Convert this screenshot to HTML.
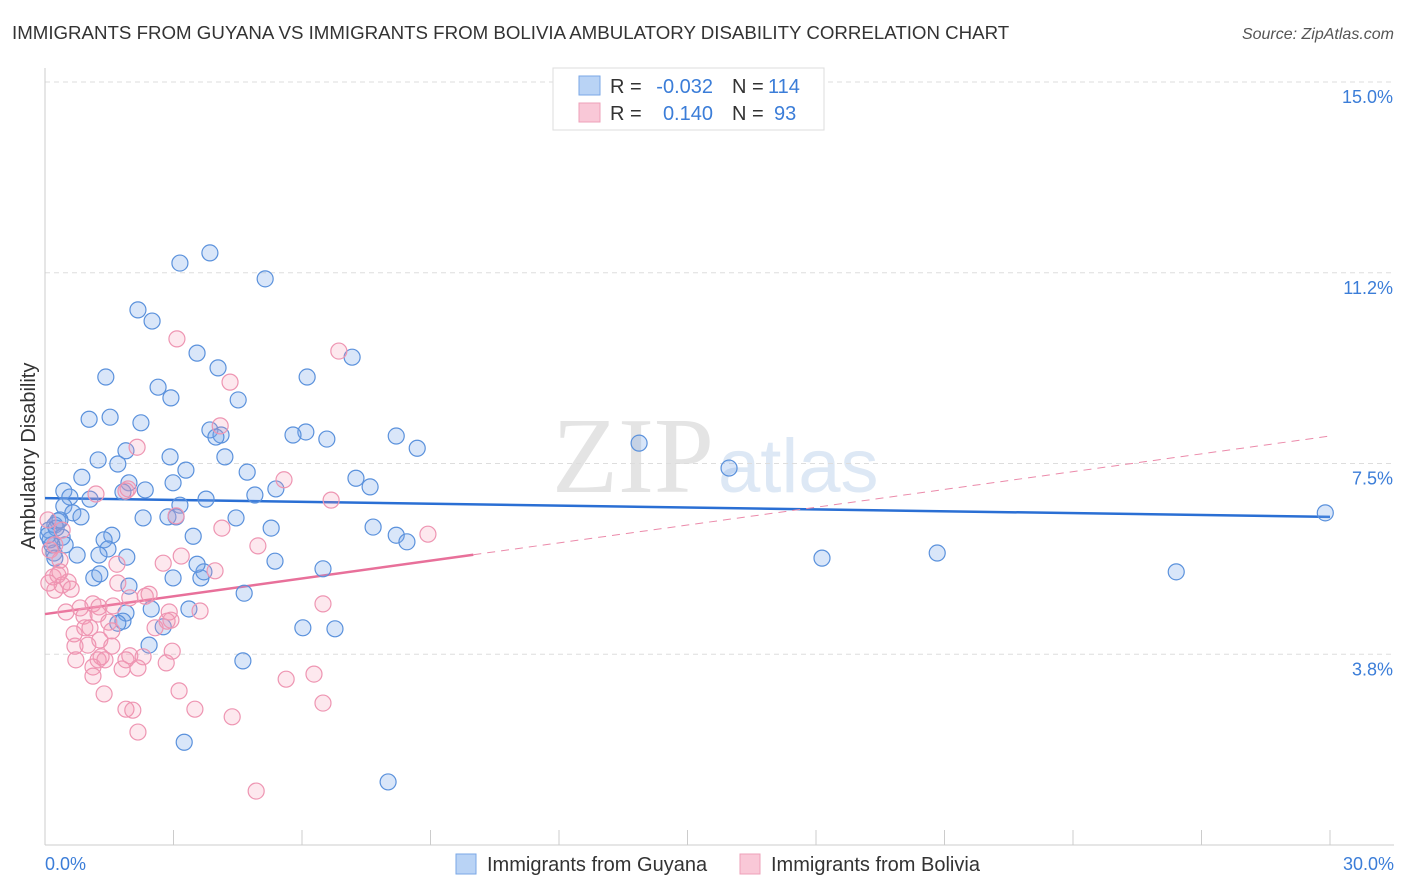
<!DOCTYPE html>
<html><head><meta charset="utf-8"><style>
body{margin:0;background:#fff;font-family:"Liberation Sans",sans-serif;}
svg{display:block}
</style></head><body>
<svg id="chart" width="1406" height="892" xmlns="http://www.w3.org/2000/svg">
<text x="12" y="39" font-size="18.7" fill="#333">IMMIGRANTS FROM GUYANA VS IMMIGRANTS FROM BOLIVIA AMBULATORY DISABILITY CORRELATION CHART</text>
<text x="1394" y="39" font-size="16" fill="#555" font-style="italic" text-anchor="end">Source: ZipAtlas.com</text>
<text x="714" y="492" font-size="108" fill="#e4e4e4" text-anchor="end" font-family="Liberation Serif">ZIP</text>
<text x="718" y="492" font-size="76" fill="#dde8f5">atlas</text>
<text transform="translate(35,456) rotate(-90)" font-size="20" fill="#333" text-anchor="middle">Ambulatory Disability</text>
<g id="grid"></g><g id="axes"></g><g id="trend"></g><g id="pts"></g>
<g>
<rect x="553" y="68" width="271" height="62" fill="#fff" stroke="#ddd"/>
<rect x="579" y="76" width="21" height="19" fill="#b9d3f5" stroke="#7aa7e6"/>
<rect x="579" y="103" width="21" height="19" fill="#f9c8d7" stroke="#eea0b8"/>
<text x="610" y="93" font-size="20" fill="#333">R =</text>
<text x="713" y="93" font-size="20" fill="#3b7dd8" text-anchor="end">-0.032</text>
<text x="732" y="93" font-size="20" fill="#333">N =</text>
<text x="768" y="93" font-size="20" fill="#3b7dd8">114</text>
<text x="610" y="120" font-size="20" fill="#333">R =</text>
<text x="713" y="120" font-size="20" fill="#3b7dd8" text-anchor="end">0.140</text>
<text x="732" y="120" font-size="20" fill="#333">N =</text>
<text x="774" y="120" font-size="20" fill="#3b7dd8">93</text>
</g>
<g>
<rect x="456" y="854" width="20" height="20" fill="#b9d3f5" stroke="#7aa7e6"/>
<text x="487" y="871" font-size="20" fill="#333">Immigrants from Guyana</text>
<rect x="740" y="854" width="20" height="20" fill="#f9c8d7" stroke="#eea0b8"/>
<text x="771" y="871" font-size="20" fill="#333">Immigrants from Bolivia</text>
</g>
</svg>
<script>
const yTicks=[15,11.25,7.5,3.75];
const yTickLabels=["15.0%","11.2%","7.5%","3.8%"];
const xTickLabels=["0.0%","30.0%"];
const guyanaX=[29.89,26.41,20.83,18.14,15.97,13.87,7.17,6.12,5.14,3.85,3.15,2.17,2.50,3.55,2.64,4.04,2.94,4.51,1.42,1.03,1.52,2.24,6.09,5.79,6.58,8.20,8.69,3.85,4.11,3.99,4.20,2.92,3.29,4.72,1.24,1.70,1.89,7.26,7.59,4.90,5.39,3.76,3.15,2.99,2.34,1.96,1.82,0.86,0.44,0.58,1.05,4.46,5.28,7.66,8.20,8.45,2.29,2.87,3.06,0.44,0.65,0.84,0.30,0.23,0.09,0.40,0.47,1.56,1.38,1.47,3.46,5.37,6.49,1.26,1.91,0.21,0.75,2.99,3.64,3.71,3.55,1.14,1.28,1.96,4.65,2.48,3.36,1.89,1.82,1.70,2.76,6.02,6.77,2.43,4.62,3.25,8.01,0.12,0.16,0.26,0.35,0.07,0.23];
const guyanaY=[6.53,5.37,5.74,5.64,7.41,7.90,9.59,9.20,11.13,11.64,11.44,10.52,10.30,9.67,9.00,9.38,8.79,8.75,9.20,8.37,8.41,8.30,8.12,8.06,7.98,8.04,7.80,8.16,8.06,8.02,7.63,7.63,7.37,7.33,7.57,7.49,7.75,7.21,7.04,6.88,7.00,6.80,6.68,7.12,6.98,7.12,6.94,7.23,6.96,6.84,6.80,6.43,6.23,6.25,6.09,5.96,6.43,6.45,6.45,6.66,6.53,6.45,6.37,6.29,6.19,6.05,5.90,6.09,6.00,5.82,6.07,5.58,5.43,5.70,5.66,5.74,5.70,5.25,5.25,5.37,5.52,5.25,5.33,5.09,4.95,4.64,4.64,4.56,4.40,4.36,4.29,4.27,4.25,3.93,3.62,2.02,1.24,6.00,5.90,6.23,6.39,6.09,5.64];
const boliviaX=[3.08,6.86,4.32,4.09,2.15,1.94,1.89,5.58,6.68,3.06,4.13,4.97,8.94,1.19,0.40,0.07,0.12,0.23,0.35,3.18,2.76,3.97,1.68,0.19,0.35,0.40,0.54,0.23,0.61,1.70,0.82,1.12,0.91,1.26,2.34,2.43,1.24,1.59,1.98,2.90,2.94,3.62,6.49,0.68,0.93,1.05,1.28,1.49,1.56,2.57,2.85,0.70,1.00,1.24,0.72,1.31,1.56,1.98,1.40,1.89,2.29,2.83,2.97,2.17,1.12,1.12,1.80,5.63,6.28,1.38,3.13,1.89,2.05,3.50,4.37,6.49,2.17,4.93,0.30,0.49,0.09];
const boliviaY=[9.95,9.71,9.10,8.24,7.82,7.00,6.96,7.18,6.78,6.47,6.23,5.88,6.11,6.90,6.19,6.39,5.80,5.90,5.60,5.68,5.54,5.39,5.52,5.27,5.37,5.11,5.17,5.01,5.03,5.15,4.66,4.74,4.50,4.68,4.89,4.93,4.54,4.70,4.86,4.58,4.42,4.60,4.74,4.15,4.27,4.27,4.03,4.38,4.21,4.27,4.40,3.91,3.93,3.64,3.64,3.70,3.91,3.72,3.64,3.64,3.70,3.58,3.81,3.48,3.50,3.32,3.46,3.26,3.36,2.97,3.03,2.67,2.65,2.67,2.52,2.79,2.22,1.06,5.31,4.58,5.15];
const guyanaTrend=[6.82,6.45];
const boliviaTrend=[4.54,8.04];
const boliviaSolidEnd=10;
const NS="http://www.w3.org/2000/svg";
const X0=45,X1=1330,Y0=845,Y15=82;
function sx(v){return X0+(X1-X0)*v/30;}
function sy(v){return Y0-(Y0-Y15)*v/15;}
function mk(tag,attrs,parent){const e=document.createElementNS(NS,tag);for(const k in attrs)e.setAttribute(k,attrs[k]);parent.appendChild(e);return e;}
const grid=document.getElementById('grid'),axes=document.getElementById('axes');
yTicks.forEach((t,i)=>{
 const l=mk('line',{x1:X0,x2:1394,y1:sy(t),y2:sy(t),stroke:'#ddd','stroke-dasharray':'5,4'},grid);
 
 
 const tx=mk('text',{x:1393,y:sy(t)+21,'font-size':18,fill:'#3b7dd8','text-anchor':'end'},grid);
 tx.textContent=yTickLabels[i];
 
 
});
const ya=mk('line',{x1:X0,x2:X0,y1:68,y2:Y0,stroke:'#ccc'},axes);


const xa=mk('line',{x1:X0,x2:1394,y1:Y0,y2:Y0,stroke:'#ccc'},axes);


for(let i=0;i<=10;i++){
 const t=mk('line',{x1:sx(i*3),x2:sx(i*3),y1:830,y2:Y0,stroke:'#ccc'},axes);
 
 
}
[[0,'start',45],[30,'end',1394]].forEach((d,i)=>{
 const tx=mk('text',{x:d[2],y:870,'font-size':18,fill:'#3b7dd8','text-anchor':d[1]},axes);
 tx.textContent=xTickLabels[i];
 
 
});
const pts=document.getElementById('pts');
function dots(xs,ys,fill,stroke,name){xs.forEach((x,i)=>{
 const c=mk('circle',{cx:sx(x),cy:sy(ys[i]),r:8,fill:fill,stroke:stroke,'stroke-width':1.2},pts);
 
 
});}
dots(guyanaX,guyanaY,'rgba(120,165,235,0.28)','#5a91dc','guyana-point');
dots(boliviaX,boliviaY,'rgba(245,150,178,0.22)','#ee95b2','bolivia-point');
const tr=document.getElementById('trend');
function ty(tt,x){return tt[0]+(tt[1]-tt[0])*x/30;}
const bl=mk('line',{x1:sx(0),y1:sy(ty(guyanaTrend,0)),x2:sx(30),y2:sy(ty(guyanaTrend,30)),stroke:'#2a6fd4','stroke-width':2.5},tr);


const pl=mk('line',{x1:sx(0),y1:sy(ty(boliviaTrend,0)),x2:sx(boliviaSolidEnd),y2:sy(ty(boliviaTrend,boliviaSolidEnd)),stroke:'#e8709a','stroke-width':2.5},tr);


const pd=mk('line',{x1:sx(boliviaSolidEnd),y1:sy(ty(boliviaTrend,boliviaSolidEnd)),x2:sx(30),y2:sy(ty(boliviaTrend,30)),stroke:'#eb8aaa','stroke-width':1,'stroke-dasharray':'8,6'},tr);


</script>
</body></html>
